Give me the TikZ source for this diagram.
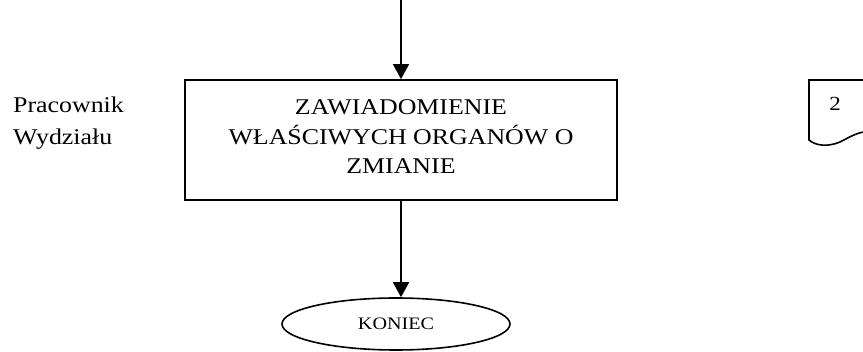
\documentclass[tikz,border=0pt]{standalone}
\usepackage{fontspec}
\setmainfont{Liberation Serif}[FakeStretch=1.15]
\usetikzlibrary{arrows.meta,shapes.geometric}

\begin{document}
\begin{tikzpicture}[x=1pt,y=-1pt,
    procbox/.style={draw, line width=1.8pt, minimum width=432pt, minimum height=120pt, inner sep=0pt},
    endoval/.style={draw, ellipse, line width=1.6pt, minimum width=228pt, minimum height=52pt, inner sep=0pt, font=\fontsize{17.5}{20}\selectfont},
    flowarrow/.style={line width=1.8pt, -{Triangle[length=15pt,width=16pt]}}]
    \useasboundingbox (0,0) rectangle (863,352);

    % Lane label
    \node[anchor=west, align=left, font=\fontsize{22.5}{32}\selectfont, inner sep=0pt] (lane) at (13,123) {Pracownik\\Wydziału};

    % Process box
    \node[procbox] (box) at (401,140) {};
    \node[align=center, font=\fontsize{22.5}{29.5}\selectfont, inner sep=0pt] (boxtext) at (401,137)
        {ZAWIADOMIENIE\\WŁAŚCIWYCH ORGANÓW O\\ZMIANIE};

    % End
    \node[endoval] (koniec) at (396,324) {KONIEC};

    % Off-page connector
    \draw[line width=1.6pt] (864,80) -- (809,80) -- (809,140)
        .. controls (816,146) and (828,147) .. (840,142)
        .. controls (848,138) and (856,133) .. (864,132);
    \node[font=\fontsize{20}{22}\selectfont, inner sep=0pt] (page) at (835,104) {2};

    % Flow
    \coordinate (start) at (401,0);
    \draw[flowarrow] (start) -- (box.north);
    \draw[flowarrow] (box.south) -- (box.south |- koniec.north);
\end{tikzpicture}
\end{document}
